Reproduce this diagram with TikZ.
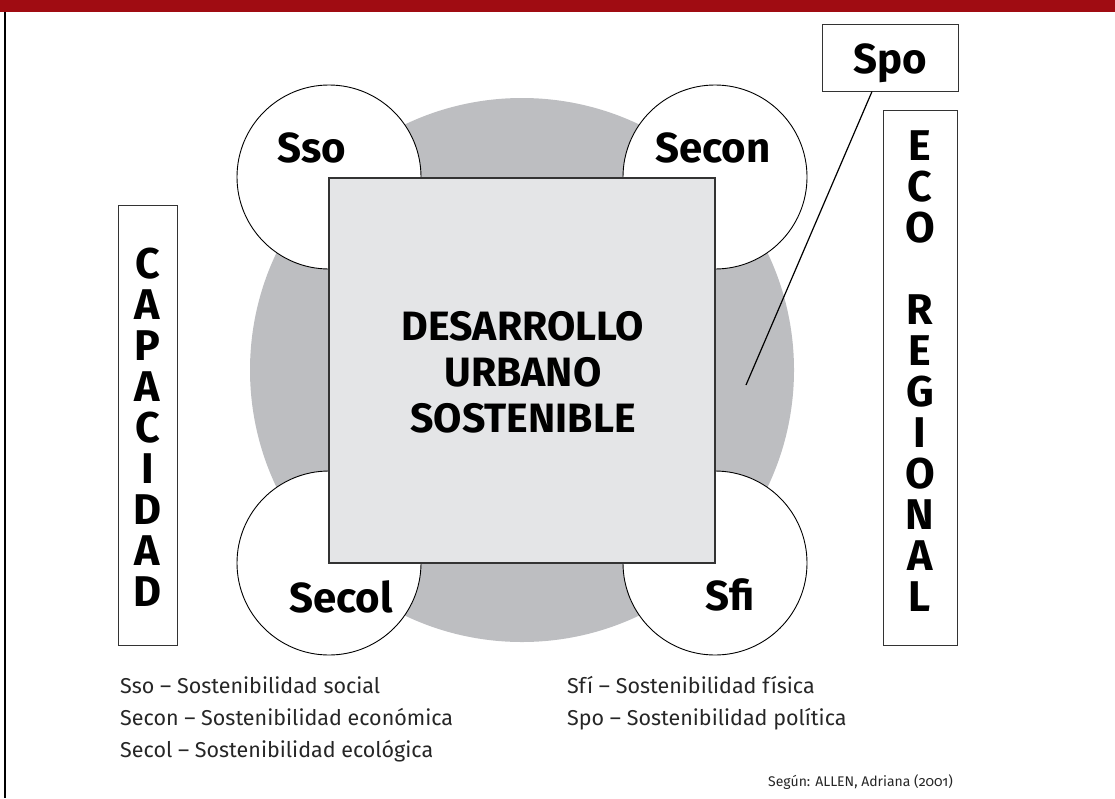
\documentclass[tikz,border=0pt]{standalone}
\usepackage{fontspec}
\setmainfont{Fira Sans}[Numbers=OldStyle]

\definecolor{barred}{RGB}{160,12,18}
\definecolor{discgray}{RGB}{189,190,193}
\definecolor{squaregray}{RGB}{228,229,231}

\tikzset{
  subcircle/.style={circle, draw=black, fill=white, line width=0.9pt, minimum size=184pt, inner sep=0pt},
  sublabel/.style={font=\fontsize{42}{42}\selectfont\bfseries, inner sep=0pt, anchor=base},
  framebox/.style={draw=black!80, line width=1pt, fill=white, inner sep=0pt},
  letters/.style={font=\fontsize{43}{41}\selectfont\bfseries, align=center, inner sep=0pt},
  legend/.style={font=\fontsize{21.5}{21.5}\selectfont, text=black!85, inner sep=0pt, anchor=base west}
}

\begin{document}
\begin{tikzpicture}[x=1pt,y=-1pt]
	\useasboundingbox (0,0) rectangle (1115,798);
	\fill[barred] (0,0) rectangle (1115,12);
	\draw[line width=1.5pt] (5,12) -- (5,798);

	% disco y cuadrado central
	\fill[discgray] (522,370) circle (272pt);
	\node[subcircle] (sso) at (329,177) {};
	\node[subcircle] (secon) at (715,177) {};
	\node[subcircle] (secol) at (329,563) {};
	\node[subcircle] (sfi) at (715,563) {};
	\node[draw=black!80, line width=1.2pt, fill=squaregray, minimum width=386pt, minimum height=385pt, inner sep=0pt] (dus) at (522,370.5) {};
	\node[letters, font=\fontsize{41}{46}\selectfont\bfseries] (dustext) at (523,372) {DESARROLLO\\URBANO\\SOSTENIBLE};

	\node[sublabel] (ssolabel) at (312,162) {Sso};
	\node[sublabel] (seconlabel) at (713,162) {Secon};
	\node[sublabel] (secollabel) at (341,612) {Secol};
	\node[sublabel] (sfilabel) at (730,610) {Sfi};

	% columnas laterales
	\node[framebox, minimum width=59pt, minimum height=440pt] (capbox) at (147.5,425) {};
	\node[letters] (capacidad) at (147.5,427) {C\\A\\P\\A\\C\\I\\D\\A\\D};
	\node[framebox, minimum width=74pt, minimum height=535pt] (ecobox) at (920,377.5) {};
	\node[letters] (ecoregional) at (920,371) {E\\C\\O\\[41pt]R\\E\\G\\I\\O\\N\\A\\L};

	\node[framebox, minimum width=136pt, minimum height=67pt] (spobox) at (890,57.5) {};
	\node[sublabel] (spolabel) at (890,73) {Spo};
	\coordinate (spotip) at (746,385);
	\draw[line width=1.2pt] ([xshift=-18pt]spobox.south) -- (spotip);

	% leyenda
	\node[legend] (lsso) at (120,693) {Sso – Sostenibilidad social};
	\node[legend] (lsecon) at (120,725) {Secon – Sostenibilidad económica};
	\node[legend] (lsecol) at (120,757) {Secol – Sostenibilidad ecológica};
	\node[legend] (lsfi) at (567,693) {Sfí – Sostenibilidad física};
	\node[legend] (lspo) at (567,725) {Spo – Sostenibilidad política};
	\node[legend, font=\fontsize{14}{14}\selectfont] (fuente) at (768,786) {Según: ALLEN, Adriana (2001)};
\end{tikzpicture}
\end{document}
